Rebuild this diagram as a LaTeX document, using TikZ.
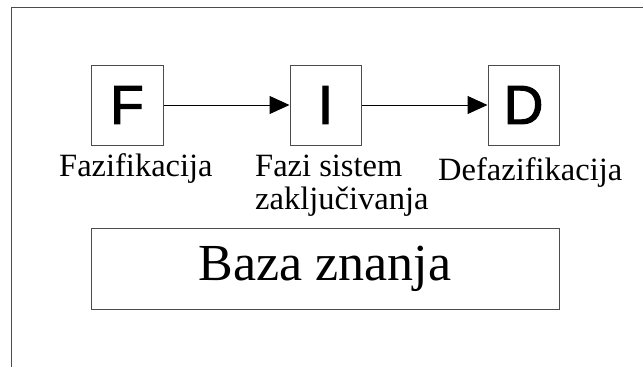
\documentclass[tikz,border=0pt]{standalone}
\usepackage{fontspec}
\setmainfont{Liberation Serif}
\newfontfamily\arialfont[BoldFont={Liberation Sans},BoldFeatures={FakeBold=2}]{Liberation Sans}
\usetikzlibrary{arrows.meta}
\begin{document}
\begin{tikzpicture}[x=1pt,y=-1pt,
  framestyle/.style={draw=black!70,line width=1pt},
  stagebox/.style={draw=black!70,line width=1pt,minimum width=72pt,minimum height=80pt,inner sep=0pt,
    font=\arialfont\bfseries\fontsize{55}{55}\selectfont},
  basebox/.style={draw=black!70,line width=1pt,minimum width=468pt,minimum height=81pt,inner sep=0pt,
    font=\fontsize{52}{52}\selectfont},
  labeltext/.style={inner sep=0pt,font=\fontsize{32.5}{33}\selectfont},
  flow/.style={-{Triangle[length=20pt,width=18pt]},line width=1pt,black}]
\useasboundingbox[fill=white] (0,0) rectangle (643,367);
\coordinate (frameTL) at (11,7);
\coordinate (frameTR) at (643,7);
\coordinate (frameBL) at (11,367);
\draw[framestyle] (frameBL) -- (frameTL) -- (frameTR);
\node[stagebox] (F) at (127,105) {F};
\node[stagebox,minimum width=71pt] (I) at (325.5,105) {I};
\node[stagebox,minimum width=71pt] (D) at (523.5,105) {D};
\draw[flow] (F.east) -- (I.west);
\draw[flow] (I.east) -- (D.west);
\node[labeltext,anchor=base west] (lf) at (59,176) {Fazifikacija};
\node[labeltext,anchor=north west,align=left] (li) at (255,155) {Fazi sistem\\zaključivanja};
\node[labeltext,anchor=base west] (ld) at (438,180) {Defazifikacija};
\node[basebox] (baza) at (325,268.5) {Baza znanja};
\end{tikzpicture}
\end{document}
